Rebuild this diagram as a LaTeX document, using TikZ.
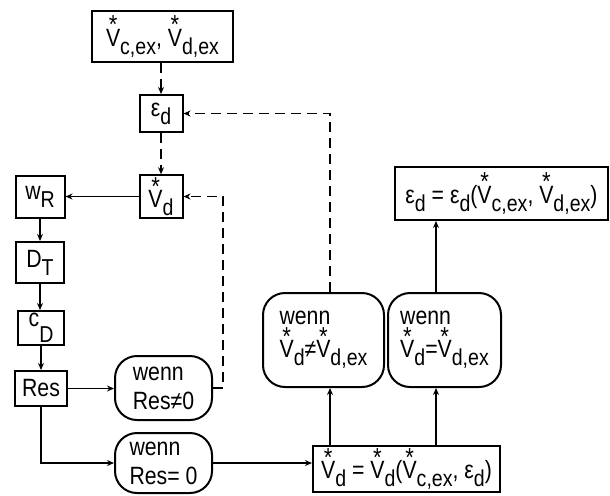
\documentclass[tikz,border=0pt]{standalone}
\usepackage{fontspec}
\setmainfont{Liberation Sans}[FakeStretch=0.85]
\usetikzlibrary{arrows.meta}
\newsavebox\vbx
\newcommand{\SV}{\leavevmode\sbox\vbx{V}\rlap{\makebox[\wd\vbx]{\raisebox{0.5em}{\fontsize{13}{13}\selectfont *}}}\usebox\vbx}
\newcommand{\lw}[1]{\raisebox{-0.6ex}{\fontsize{11.5}{11.5}\selectfont #1}}
\begin{document}
\begin{tikzpicture}[x=0.5pt,y=-0.5pt,font=\fontsize{12.5}{14.5}\selectfont,
  box/.style={draw,line width=1pt,inner sep=1pt},
  rbox/.style={draw,line width=1pt,rounded corners=11pt,align=left,inner sep=2pt},
  arr/.style={-{Stealth[length=3.5pt,width=3pt]},line width=0.9pt},
  dsh/.style={arr,dash pattern=on 5pt off 3pt}]
\useasboundingbox (0,0) rectangle (610,495);
% nodes
\node[box,minimum width=70.5pt,minimum height=25.5pt] (top) at (162.5,36.5) {\SV\lw{c,ex}, \SV\lw{d,ex}};
\node[box,minimum width=21.5pt,minimum height=18.5pt] (eps) at (161,113.5) {ε\lw{d}};
\node[box,minimum width=21.5pt,minimum height=20.5pt] (vd) at (161,196.5) {\SV\lw{d}};
\node[box,minimum width=24.5pt,minimum height=21pt] (wR) at (40,197) {w\lw{R}};
\node[box,minimum width=24pt,minimum height=20.5pt] (DT) at (40,262.5) {D\lw{T}};
\node[box,minimum width=23pt,minimum height=17pt] (cD) at (41,328) {\raisebox{0.6ex}{c}\lw{D}};
\node[box,minimum width=26pt,minimum height=17.5pt] (Res) at (41,388.5) {Res};
\node[rbox,minimum width=48.5pt,minimum height=32pt] (wRes1) at (163.5,388) {wenn\\Res≠0};
\node[rbox,minimum width=48.5pt,minimum height=30pt] (wRes0) at (163.5,463) {wenn\\Res= 0};
\node[box,minimum width=93.5pt,minimum height=23pt] (vdeq) at (406.5,469) {\SV\lw{d} = \SV\lw{d}(\SV\lw{c,ex}, ε\lw{d})};
\node[rbox,minimum width=60.5pt,minimum height=47pt] (wne) at (323.5,340) {wenn\\\SV\lw{d}≠\SV\lw{d,ex}};
\node[rbox,minimum width=56.5pt,minimum height=47pt] (weq) at (444.5,340) {wenn\\\SV\lw{d}=\SV\lw{d,ex}};
\node[box,minimum width=106.5pt,minimum height=26.5pt] (epseq) at (501.5,193.5) {ε\lw{d} = ε\lw{d}(\SV\lw{c,ex}, \SV\lw{d,ex})};
% helper coordinates
\coordinate (c1) at (223,0);
\coordinate (a1) at (330,0);
\coordinate (a2) at (436,0);
% connectors
\draw[dsh] (top.south -| eps) -- (eps.north);
\draw[dsh] (eps.south) -- (vd.north);
\draw[arr] (vd.west) -- (vd.west -| wR.east);
\draw[arr] (wR.south) -- (wR.south |- DT.north);
\draw[arr] (DT.south) -- (DT.south |- cD.north);
\draw[arr] (cD.south) -- (cD.south |- Res.north);
\draw[arr] (Res.east) -- (Res.east -| wRes1.west);
\draw[arr] (Res.south) |- (wRes0.west);
\draw[arr] (wRes0.east) -- (wRes0.east -| vdeq.west);
\draw[dsh] (wRes1.east) -- (wRes1.east -| c1) |- (vd.east);
\draw[arr] (a1 |- vdeq.north) -- (a1 |- wne.south);
\draw[arr] (a2 |- vdeq.north) -- (a2 |- weq.south);
\draw[dsh] (a1 |- wne.north) |- (eps.east);
\draw[arr] (a2 |- weq.north) -- (a2 |- epseq.south);
\end{tikzpicture}
\end{document}
